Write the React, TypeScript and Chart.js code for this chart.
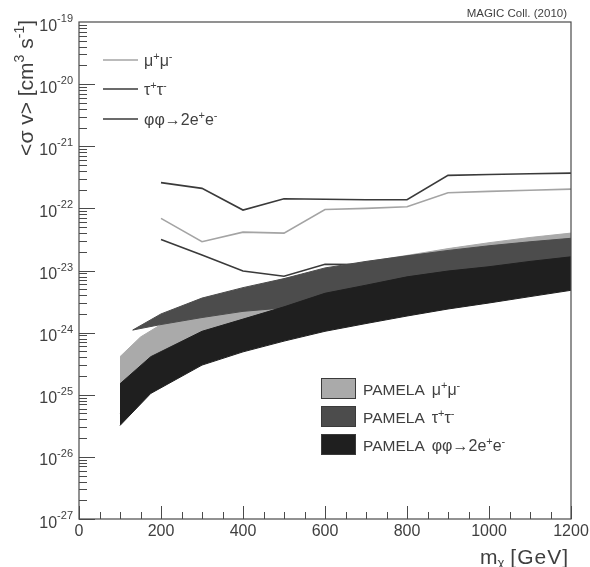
import { useEffect, useRef } from "react";
import { Chart, registerables } from "chart.js";

Chart.register(...registerables);

// ---- data ----
const lineMasses = [200, 300, 400, 500, 600, 700, 800, 900, 1000, 1100, 1200];
const magicMuMu = [6.9e-23, 2.9e-23, 4.15e-23, 4.0e-23, 9.6e-23, 1.0e-22, 1.06e-22, 1.78e-22, 1.88e-22, 1.96e-22, 2.04e-22];
const magicTauTau = [2.6e-22, 2.1e-22, 9.4e-23, 1.43e-22, 1.4e-22, 1.38e-22, 1.38e-22, 3.4e-22, 3.5e-22, 3.6e-22, 3.7e-22];
const magicPhiPhi = [3.15e-23, 1.77e-23, 9.8e-24, 8.1e-24, 1.26e-23, 1.25e-23, 1.22e-23, 1.2e-23, 1.28e-23, 1.17e-23, 1.9e-23];

const muBandMasses = [100, 150, 200, 300, 400, 500, 600, 700, 800, 900, 1000, 1100, 1200];
const muBandTop = [4.1e-25, 8.5e-25, 1.35e-24, 2.0e-24, 3.0e-24, 5.0e-24, 1.05e-23, 1.38e-23, 1.75e-23, 2.25e-23, 2.8e-23, 3.4e-23, 4.0e-23];
const muBandBottom = [5e-26, 1.5e-25, 2.0e-25, 4.0e-25, 6.0e-25, 9.0e-25, 1.3e-24, 1.7e-24, 2.2e-24, 2.8e-24, 3.5e-24, 4.3e-24, 5.3e-24];

const tauBandMasses = [131, 200, 300, 400, 500, 600, 700, 800, 900, 1000, 1100, 1200];
const tauBandTop = [1.1e-24, 2.0e-24, 3.6e-24, 5.3e-24, 7.4e-24, 1.1e-23, 1.4e-23, 1.72e-23, 2.1e-23, 2.5e-23, 2.9e-23, 3.3e-23];
const tauBandBottom = [1.1e-24, 1.35e-24, 1.75e-24, 2.2e-24, 2.5e-24, 3.5e-24, 4.8e-24, 6.0e-24, 7.5e-24, 9.0e-24, 1.05e-23, 1.2e-23];

const phiBandMasses = [100, 175, 300, 400, 500, 600, 700, 800, 900, 1000, 1100, 1200];
const phiBandTop = [1.5e-25, 4.1e-25, 1.05e-24, 1.65e-24, 2.6e-24, 4.3e-24, 5.8e-24, 7.9e-24, 9.8e-24, 1.15e-23, 1.4e-23, 1.66e-23];
const phiBandBottom = [3.2e-26, 1.05e-25, 3.0e-25, 4.9e-25, 7.3e-25, 1.05e-24, 1.4e-24, 1.85e-24, 2.4e-24, 3.0e-24, 3.8e-24, 4.8e-24];

const xTickLabels = [0, 200, 400, 600, 800, 1000, 1200];
const yTickExponents = [-27, -26, -25, -24, -23, -22, -21, -20, -19];

const lineLegendLabels = ["μ^{+}μ^{-}", "τ^{+}τ^{-}", "φφ→2e^{+}e^{-}"];
const bandLegendLabels = ["μ^{+}μ^{-}", "τ^{+}τ^{-}", "φφ→2e^{+}e^{-}"];
const yTitle = "<σ v> [cm^{3} s^{-1}]";
const credit = "MAGIC Coll. (2010)";

// ---- styles ----
const FONT = '"Liberation Sans", Arial, Helvetica, sans-serif';
const TEXT = "#3f3f3f";
const MU_LINE = "#a4a4a4";
const DARK_LINE = "#3a3a3a";
const MU_BAND = "#aaaaaa";
const TAU_BAND = "#4c4c4c";
const PHI_BAND = "#1f1f1f";

type Seg = { t: string; k: number };
function parseRich(s: string): Seg[] {
  const out: Seg[] = [];
  const re = /\^\{([^}]*)\}|_\{([^}]*)\}|([^^_]+)/g;
  let m: RegExpExecArray | null;
  while ((m = re.exec(s))) {
    if (m[1] !== undefined) out.push({ t: m[1], k: 1 });
    else if (m[2] !== undefined) out.push({ t: m[2], k: -1 });
    else out.push({ t: m[3], k: 0 });
  }
  return out;
}

function drawRich(
  ctx: CanvasRenderingContext2D,
  s: string,
  x: number,
  y: number,
  o: { size: number; small?: number; raise?: number; drop?: number; align?: "left" | "right" | "center" }
) {
  const segs = parseRich(s);
  const small = o.small ?? o.size * 0.68;
  const raise = o.raise ?? o.size * 0.42;
  const drop = o.drop ?? o.size * 0.22;
  const widths = segs.map((sg) => {
    ctx.font = `${sg.k ? small : o.size}px ${FONT}`;
    return ctx.measureText(sg.t).width;
  });
  const total = widths.reduce((a, b) => a + b, 0);
  let cx = o.align === "right" ? x - total : o.align === "center" ? x - total / 2 : x;
  ctx.textAlign = "left";
  ctx.textBaseline = "alphabetic";
  segs.forEach((sg, i) => {
    ctx.font = `${sg.k ? small : o.size}px ${FONT}`;
    ctx.fillText(sg.t, cx, y + (sg.k === 1 ? -raise : sg.k === -1 ? drop : 0));
    cx += widths[i];
  });
  return total;
}

const decorPlugin = {
  id: "decor",
  afterDraw(chart: any) {
    const ctx: CanvasRenderingContext2D = chart.ctx;
    const { left, right, top, bottom } = chart.chartArea;
    const xs = chart.scales.x;
    const ys = chart.scales.y;
    ctx.save();

    // frame
    ctx.strokeStyle = "#4a4a4a";
    ctx.lineWidth = 1.2;
    ctx.strokeRect(left, top, right - left, bottom - top);

    // y ticks (inside)
    ctx.lineWidth = 1;
    ctx.beginPath();
    for (let e = -27; e < -19; e++) {
      for (let m = 1; m <= 9; m++) {
        const py = Math.round(ys.getPixelForValue(m * Math.pow(10, e))) + 0.5;
        const len = m === 1 ? 16 : 8;
        ctx.moveTo(left, py);
        ctx.lineTo(left + len, py);
      }
    }
    // x ticks (inside)
    for (let v = 0; v <= 1200; v += 50) {
      const px = Math.round(xs.getPixelForValue(v)) + 0.5;
      const len = v % 200 === 0 ? 13 : 7;
      ctx.moveTo(px, bottom);
      ctx.lineTo(px, bottom - len);
    }
    ctx.stroke();

    ctx.fillStyle = TEXT;
    // y labels
    yTickExponents.forEach((e) => {
      const py = ys.getPixelForValue(Math.pow(10, e));
      drawRich(ctx, `10^{${e}}`, 73, py + 8.5, { size: 16, small: 11, raise: 8.5, align: "right" });
    });
    // x labels
    ctx.font = `16px ${FONT}`;
    ctx.textAlign = "center";
    ctx.textBaseline = "alphabetic";
    xTickLabels.forEach((v) => {
      ctx.fillText(String(v), xs.getPixelForValue(v), 536);
    });

    // y title (rotated)
    {
      ctx.save();
      const segs = parseRich(yTitle);
      let w = 0;
      segs.forEach((sg) => {
        ctx.font = `${sg.k ? 14 : 21}px ${FONT}`;
        w += ctx.measureText(sg.t).width;
      });
      ctx.translate(33, 20 + w);
      ctx.rotate(-Math.PI / 2);
      drawRich(ctx, yTitle, 0, 0, { size: 21, small: 14, raise: 9 });
      ctx.restore();
    }

    // x title
    {
      ctx.font = `21px ${FONT}`;
      (ctx as any).letterSpacing = "1px";
      const w = ctx.measureText("[GeV]").width - 1;
      const gx = 568 - w;
      ctx.textAlign = "left";
      ctx.fillText("[GeV]", gx, 564);
      (ctx as any).letterSpacing = "0px";
      drawRich(ctx, "m_{χ}", gx - 6, 564, { size: 21, small: 13, drop: 3, align: "right" });
    }

    // credit
    ctx.font = `11.5px ${FONT}`;
    ctx.textAlign = "right";
    ctx.fillText(credit, 567, 17);

    // line legend (top-left)
    const lineColors = [MU_LINE, DARK_LINE, DARK_LINE];
    const lineYs = [60, 89, 119];
    lineLegendLabels.forEach((lab, i) => {
      ctx.strokeStyle = lineColors[i];
      ctx.lineWidth = 1.5;
      ctx.beginPath();
      ctx.moveTo(103, lineYs[i]);
      ctx.lineTo(138, lineYs[i]);
      ctx.stroke();
      ctx.fillStyle = TEXT;
      drawRich(ctx, lab, 144, lineYs[i] + 6, { size: 16, small: 11, raise: 6 });
    });

    // band legend (bottom-right)
    const bandColors = [MU_BAND, TAU_BAND, PHI_BAND];
    const boxYs = [378.5, 406.5, 434.5];
    bandLegendLabels.forEach((lab, i) => {
      ctx.fillStyle = bandColors[i];
      ctx.fillRect(321, boxYs[i], 35, 20);
      ctx.strokeStyle = "#3a3a3a";
      ctx.lineWidth = 1;
      ctx.strokeRect(321.5, boxYs[i], 34, 20);
      ctx.fillStyle = TEXT;
      ctx.font = `15.5px ${FONT}`;
      ctx.textAlign = "left";
      const by = boxYs[i] + 16;
      ctx.fillText("PAMELA", 363, by);
      const pw = ctx.measureText("PAMELA").width;
      drawRich(ctx, lab, 363 + pw + 7, by, { size: 16, small: 11, raise: 6 });
    });

    ctx.restore();
  },
};

const pts = (xs: number[], ys: number[]) => xs.map((x, i) => ({ x, y: ys[i] }));

export default function App() {
  const ref = useRef<HTMLCanvasElement>(null);
  useEffect(() => {
    if (!ref.current) return;
    const base = { pointRadius: 0, tension: 0 };
    const chart = new Chart(ref.current, {
      type: "line",
      data: {
        datasets: [
          // 0..2: MAGIC limit lines (phi line sits beneath the tau and phi bands)
          { ...base, data: pts(lineMasses, magicMuMu), borderColor: MU_LINE, borderWidth: 1.6, fill: false, order: 0 },
          { ...base, data: pts(lineMasses, magicTauTau), borderColor: DARK_LINE, borderWidth: 1.6, fill: false, order: 0 },
          { ...base, data: pts(lineMasses, magicPhiPhi), borderColor: DARK_LINE, borderWidth: 1.6, fill: false, order: 2.5 },
          // 3,4: PAMELA phi phi band
          { ...base, data: pts(phiBandMasses, phiBandBottom), borderColor: PHI_BAND, borderWidth: 1, fill: false, order: 1 },
          { ...base, data: pts(phiBandMasses, phiBandTop), borderColor: PHI_BAND, borderWidth: 1, backgroundColor: PHI_BAND, fill: 3, order: 1 },
          // 5,6: PAMELA tau tau band
          { ...base, data: pts(tauBandMasses, tauBandBottom), borderColor: TAU_BAND, borderWidth: 1, fill: false, order: 2 },
          { ...base, data: pts(tauBandMasses, tauBandTop), borderColor: TAU_BAND, borderWidth: 1, backgroundColor: TAU_BAND, fill: 5, order: 2 },
          // 7,8: PAMELA mu mu band
          { ...base, data: pts(muBandMasses, muBandBottom), borderColor: MU_BAND, borderWidth: 1, fill: false, order: 3 },
          { ...base, data: pts(muBandMasses, muBandTop), borderColor: MU_BAND, borderWidth: 1, backgroundColor: MU_BAND, fill: 7, order: 3 },
        ] as any,
      },
      options: {
        responsive: false,
        animation: false,
        devicePixelRatio: 1,
        layout: { padding: { left: 79, top: 22, right: 19, bottom: 48 } },
        scales: {
          x: { type: "linear", min: 0, max: 1200, display: false },
          y: { type: "logarithmic", min: 1e-27, max: 1e-19, display: false },
        },
        plugins: {
          legend: { display: false },
          tooltip: { enabled: false },
        },
        events: [],
      },
      plugins: [decorPlugin],
    });
    return () => chart.destroy();
  }, []);

  return (
    <div style={{ position: "absolute", left: 0, top: 0, width: 590, height: 567, background: "#ffffff" }}>
      <canvas ref={ref} width={590} height={567} style={{ display: "block", width: 590, height: 567 }} />
    </div>
  );
}
